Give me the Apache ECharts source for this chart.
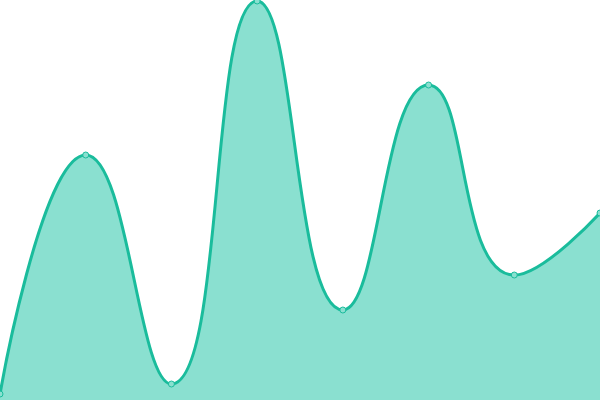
<!DOCTYPE html>
<html>
<head>
<meta charset="utf-8">
<script src="https://cdn.jsdelivr.net/npm/echarts@6/dist/echarts.min.js"></script>
<style>html,body{margin:0;padding:0;background:#fff}#c{width:600px;height:400px}</style>
</head>
<body>
<div id="c"></div>
<script>
var categories = ['A','B','C','D','E','F','G','H'];
var values = [6, 245, 16, 399, 90, 315, 125, 187];
var chart = echarts.init(document.getElementById('c'));
chart.setOption({
  animation: false,
  grid: {left: 0, right: 0, top: 0, bottom: 0},
  xAxis: {type: 'category', data: categories, boundaryGap: false, show: false},
  yAxis: {type: 'value', min: 0, max: 400, show: false},
  series: [{
    type: 'line',
    data: values,
    smooth: true,
    symbol: 'circle',
    symbolSize: 6,
    itemStyle: {color: '#8ae0d0', borderColor: '#1abc9c', borderWidth: 1},
    lineStyle: {color: '#1abc9c', width: 3},
    areaStyle: {color: '#8ae0d0', opacity: 1}
  }]
});
</script>
</body>
</html>
